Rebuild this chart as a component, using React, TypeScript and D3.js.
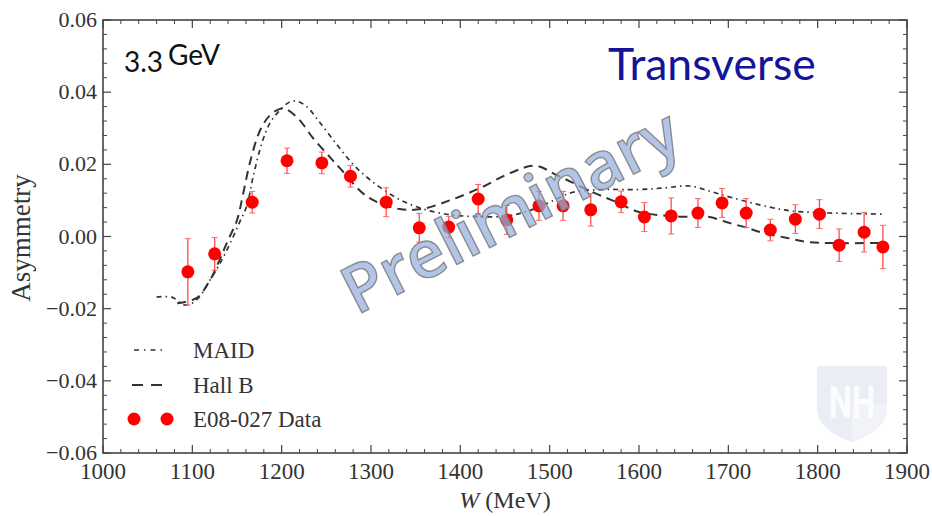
import React from 'react'
import * as d3 from 'd3'

// E08-027 transverse asymmetry, 3.3 GeV
const W_DATA = [1095, 1125, 1167, 1206, 1245, 1277, 1317, 1354, 1387, 1420, 1452, 1488, 1515, 1546, 1580, 1606, 1636, 1666, 1693, 1720, 1747, 1775, 1802, 1824, 1852, 1873]
const A_DATA = [-0.0098, -0.0048, 0.0095, 0.021, 0.0204, 0.0167, 0.0095, 0.0024, 0.0026, 0.0104, 0.0046, 0.0085, 0.0085, 0.0074, 0.0096, 0.0054, 0.0057, 0.0065, 0.0093, 0.0065, 0.0018, 0.0048, 0.0062, -0.0024, 0.0012, -0.0029]
const A_ERR = [0.0092, 0.0045, 0.003, 0.0035, 0.003, 0.003, 0.004, 0.004, 0.003, 0.004, 0.004, 0.004, 0.004, 0.0045, 0.003, 0.004, 0.005, 0.004, 0.004, 0.004, 0.003, 0.004, 0.004, 0.0045, 0.0055, 0.006]

const MAID_W = [1060, 1077, 1092, 1105, 1120, 1133, 1144, 1153, 1161, 1168, 1178, 1187, 1198, 1209, 1217, 1228, 1243, 1262, 1280, 1300, 1330, 1360, 1390, 1420, 1450, 1475, 1500, 1525, 1555, 1600, 1630, 1657, 1680, 1705, 1745, 1770, 1815, 1875]
const MAID_A = [-0.0168, -0.0168, -0.019, -0.0175, -0.012, -0.0065, -0.001, 0.004, 0.0085, 0.0165, 0.026, 0.0315, 0.035, 0.0373, 0.0375, 0.036, 0.0315, 0.0254, 0.02, 0.0155, 0.0105, 0.0075, 0.006, 0.0055, 0.0056, 0.007, 0.0095, 0.0122, 0.013, 0.013, 0.0135, 0.014, 0.0125, 0.0107, 0.0082, 0.0071, 0.0065, 0.0062]

const HALLB_W = [1083, 1105, 1120, 1131, 1140, 1150, 1157, 1165, 1176, 1187, 1201, 1217, 1235, 1254, 1265, 1296, 1332, 1358, 1388, 1422, 1456, 1484, 1508, 1548, 1575, 1600, 1645, 1676, 1702, 1721, 1739, 1766, 1788, 1814, 1870]
const HALLB_A = [-0.0185, -0.017, -0.012, -0.0062, -0.001, 0.0045, 0.012, 0.021, 0.0295, 0.0336, 0.0355, 0.0331, 0.0273, 0.022, 0.019, 0.011, 0.0076, 0.0077, 0.01, 0.0134, 0.0176, 0.0196, 0.017, 0.0123, 0.0095, 0.0068, 0.0055, 0.0055, 0.0037, 0.0024, 0.001, -0.0004, -0.0015, -0.0018, -0.0018]

const X_TICKS = [1000, 1100, 1200, 1300, 1400, 1500, 1600, 1700, 1800, 1900]
const X_TICK_LABELS = ['1000', '1100', '1200', '1300', '1400', '1500', '1600', '1700', '1800', '1900']
const Y_TICKS = [-0.06, -0.04, -0.02, 0, 0.02, 0.04, 0.06]
const Y_TICK_LABELS = ['\u22120.06', '\u22120.04', '\u22120.02', '0.00', '0.02', '0.04', '0.06']

const LEGEND_LABELS = ['MAID', 'Hall B', 'E08-027 Data']

const width = 932
const height = 516
const frame = { left: 103, right: 907, top: 20, bottom: 453 }
const serif = '"Liberation Serif", "DejaVu Serif", serif'
const sans = "Lato, 'Open Sans', sans-serif"
const axisColor = '#444'
const curveColor = '#333'
const maidDash = '5,4,1.5,4'
const hallDash = '9,6'

const App = () => {
  const x = d3.scaleLinear().domain([1000, 1900]).range([frame.left, frame.right])
  const y = d3.scaleLinear().domain([-0.06, 0.06]).range([frame.bottom, frame.top])

  const line = d3.line<[number, number]>()
    .curve(d3.curveCatmullRom.alpha(0.5))
    .x(d => x(d[0]))
    .y(d => y(d[1]))

  const maidPath = line(MAID_W.map((w, i) => [w, MAID_A[i]] as [number, number]))
  const hallPath = line(HALLB_W.map((w, i) => [w, HALLB_A[i]] as [number, number]))

  // minor ticks
  const xMinor = d3.range(1000, 1901, 20).filter(v => v % 100 !== 0)
  const yMinor = d3.range(-60, 61, 4).filter(v => v % 20 !== 0).map(v => v / 1000)

  const legendY = [350, 385, 419]

  return (
    <svg width={width} height={height} style={{ position: 'absolute', left: 0, top: 0, background: '#fff' }}>
      {/* NH logo */}
      <g transform="translate(817,366)">
        <path d="M0,0 H70 V42 C70,60 52,70 35,76 C18,70 0,60 0,42 Z" fill="#eaedf4" />
        <path d="M35,38 H70 V42 C70,60 52,70 35,76 Z" fill="#f1f3f8" />
        <text x={35} y={52} textAnchor="middle" fontFamily="Roboto, sans-serif" fontWeight="bold" fontSize={44}
          fill="#fbfcfd" transform="translate(35,0) scale(0.75,1) translate(-35,0)">NH</text>
      </g>

      {/* frame */}
      <rect x={frame.left} y={frame.top} width={frame.right - frame.left} height={frame.bottom - frame.top}
        fill="none" stroke={axisColor} strokeWidth={1.6} />

      {/* x ticks (bottom and top, inward) */}
      {X_TICKS.map(v => (
        <g key={'xt' + v}>
          <line x1={x(v)} x2={x(v)} y1={frame.bottom} y2={frame.bottom - 8} stroke={axisColor} strokeWidth={1.2} />
          <line x1={x(v)} x2={x(v)} y1={frame.top} y2={frame.top + 8} stroke={axisColor} strokeWidth={1.2} />
        </g>
      ))}
      {xMinor.map(v => (
        <g key={'xm' + v}>
          <line x1={x(v)} x2={x(v)} y1={frame.bottom} y2={frame.bottom - 4} stroke={axisColor} strokeWidth={1} />
          <line x1={x(v)} x2={x(v)} y1={frame.top} y2={frame.top + 4} stroke={axisColor} strokeWidth={1} />
        </g>
      ))}
      {Y_TICKS.map(v => (
        <g key={'yt' + v}>
          <line x1={frame.left} x2={frame.left + 8} y1={y(v)} y2={y(v)} stroke={axisColor} strokeWidth={1.2} />
          <line x1={frame.right} x2={frame.right - 8} y1={y(v)} y2={y(v)} stroke={axisColor} strokeWidth={1.2} />
        </g>
      ))}
      {yMinor.map(v => (
        <g key={'ym' + v}>
          <line x1={frame.left} x2={frame.left + 4} y1={y(v)} y2={y(v)} stroke={axisColor} strokeWidth={1} />
          <line x1={frame.right} x2={frame.right - 4} y1={y(v)} y2={y(v)} stroke={axisColor} strokeWidth={1} />
        </g>
      ))}

      {/* tick labels */}
      {X_TICKS.map((v, i) => (
        <text key={'xl' + v} x={x(v)} y={479} textAnchor="middle" fontFamily={serif} fontSize={23} fill="#333">
          {X_TICK_LABELS[i]}
        </text>
      ))}
      {Y_TICKS.map((v, i) => (
        <text key={'yl' + v} x={97} y={y(v) + 7} textAnchor="end" fontFamily={serif} fontSize={22} fill="#333">
          {Y_TICK_LABELS[i]}
        </text>
      ))}

      {/* axis titles */}
      <text x={505} y={508} textAnchor="middle" fontFamily={serif} fontSize={24} fill="#333">
        <tspan fontStyle="italic">W</tspan> (MeV)
      </text>
      <text transform="translate(30,238) rotate(-90)" textAnchor="middle" fontFamily={serif} fontSize={27} fill="#333">
        Asymmetry
      </text>

      {/* model curves */}
      <path d={maidPath || ''} fill="none" stroke={curveColor} strokeWidth={1.7} strokeDasharray={maidDash} />
      <path d={hallPath || ''} fill="none" stroke={curveColor} strokeWidth={2} strokeDasharray={hallDash} />

      {/* data with error bars */}
      {W_DATA.map((w, i) => (
        <g key={'pt' + w}>
          <line x1={x(w)} x2={x(w)} y1={y(A_DATA[i] - A_ERR[i])} y2={y(A_DATA[i] + A_ERR[i])} stroke="#ff4d4d" strokeWidth={1.3} />
          <line x1={x(w) - 3} x2={x(w) + 3} y1={y(A_DATA[i] - A_ERR[i])} y2={y(A_DATA[i] - A_ERR[i])} stroke="#ff6666" strokeWidth={1} />
          <line x1={x(w) - 3} x2={x(w) + 3} y1={y(A_DATA[i] + A_ERR[i])} y2={y(A_DATA[i] + A_ERR[i])} stroke="#ff6666" strokeWidth={1} />
          <circle cx={x(w)} cy={y(A_DATA[i])} r={6.5} fill="#ff0000" />
        </g>
      ))}

      {/* legend */}
      <line x1={130} x2={162} y1={legendY[0]} y2={legendY[0]} stroke={curveColor} strokeWidth={1.7} strokeDasharray="5,5,1.5,5" strokeDashoffset={-4} />
      <line x1={130} x2={162} y1={legendY[1]} y2={legendY[1]} stroke={curveColor} strokeWidth={2} strokeDasharray="11,8" strokeDashoffset={-2} />
      <circle cx={134} cy={legendY[2]} r={6.5} fill="#ff0000" />
      <circle cx={167} cy={legendY[2]} r={6.5} fill="#ff0000" />
      {LEGEND_LABELS.map((t, i) => (
        <text key={t} x={193} y={legendY[i] + 8} fontFamily={serif} fontSize={23} fill="#333">{t}</text>
      ))}

      {/* annotations */}
      <text x={124} y={72} fontFamily={sans} fontSize={28} fill="#111">3.3</text>
      <text x={168} y={65} fontFamily={sans} fontSize={28} fill="#111">GeV</text>
      <text x={608} y={80} fontFamily={sans} fontSize={44.5} fill="#14149a">Transverse</text>

      {/* watermark */}
      <text transform="translate(513,216) rotate(-27)" textAnchor="middle" dominantBaseline="middle"
        fontFamily="'Open Sans', sans-serif" fontWeight={600} fontSize={66} fill="#94afdd" fillOpacity={0.72}
        stroke="#777" strokeWidth={1.4} strokeOpacity={0.8}>Preliminary</text>
    </svg>
  )
}

export default App
